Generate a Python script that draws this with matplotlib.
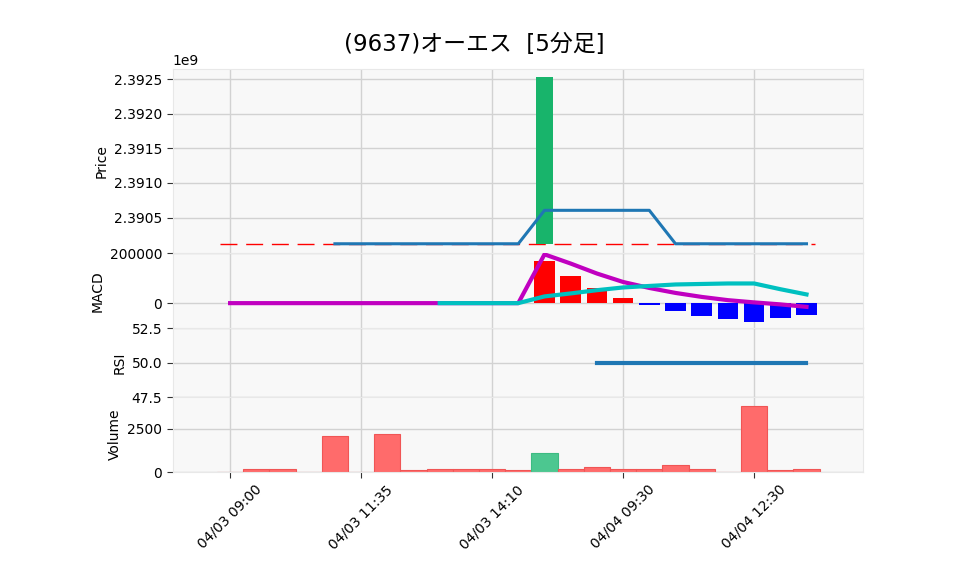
import numpy as np
import matplotlib
matplotlib.use("Agg")
import matplotlib.pyplot as plt

plt.rcParams['font.family'] = ['DejaVu Sans', 'Noto Sans CJK JP']

nan = np.nan

title = "(9637)オーエス  [5分足]"
tick_pos = [0, 5, 10, 15, 20]
tick_labels = ["04/03 09:00", "04/03 11:35", "04/03 14:10", "04/04 09:30", "04/04 12:30"]

# price data (values as shown on chart, scale 1e9)
opens = [2390120000, 2390120000, 2390120000, 2390120000, 2390120000, 2390120000,
         2390120000, 2390120000, 2390120000, 2390120000, 2390120000, 2390120000,
         2390120000, 2390120000, 2390120000, 2390120000, 2390120000, 2390120000,
         2390120000, 2390120000, 2390120000, 2390120000, 2390120000]
closes = [2390120000, 2390120000, 2390120000, 2390120000, 2390120000, 2390120000,
          2390120000, 2390120000, 2390120000, 2390120000, 2390120000, 2390120000,
          2392540000, 2390120000, 2390120000, 2390120000, 2390120000, 2390120000,
          2390120000, 2390120000, 2390120000, 2390120000, 2390120000]
ma5 = [nan, nan, nan, nan, 2390120000, 2390120000, 2390120000, 2390120000,
       2390120000, 2390120000, 2390120000, 2390120000, 2390604000, 2390604000,
       2390604000, 2390604000, 2390604000, 2390120000, 2390120000, 2390120000,
       2390120000, 2390120000, 2390120000]
ref_price = 2390120000

macd = [0, 0, 0, 0, 0, 0, 0, 0, 0, 0, 0, 0, 196000, 159000, 119000, 85000,
        61000, 41000, 25000, 12000, 3000, -5000, -15000]
signal = [nan, nan, nan, nan, nan, nan, nan, nan, 0, 0, 0, 0, 27000, 39000,
          52000, 63000, 69000, 75000, 77000, 79000, 79000, 56000, 35000]
hist = [nan, nan, nan, nan, nan, nan, nan, nan, 0, 0, 0, 0, 169000, 109000,
        60000, 21000, -7000, -31000, -51000, -63000, -75000, -59000, -47000]

rsi = [nan, nan, nan, nan, nan, nan, nan, nan, nan, nan, nan, nan, nan, nan,
       50, 50, 50, 50, 50, 50, 50, 50, 50]

volume = [0, 200, 200, 0, 2100, 0, 2200, 100, 200, 200, 200, 100, 1100, 200,
          300, 200, 200, 400, 200, 0, 3800, 100, 200]

x = np.arange(len(closes))

fig = plt.figure(figsize=(9.58, 5.75), dpi=100)
gs = fig.add_gridspec(4, 1, height_ratios=[183.7, 74.7, 69.3, 74.5],
                      left=0.1803, right=0.9012, top=0.8795, bottom=0.1791, hspace=0)
ax_p = fig.add_subplot(gs[0])
ax_m = fig.add_subplot(gs[1], sharex=ax_p)
ax_r = fig.add_subplot(gs[2], sharex=ax_p)
ax_v = fig.add_subplot(gs[3], sharex=ax_p)

for ax in (ax_p, ax_m, ax_r, ax_v):
    ax.set_facecolor('#f8f8f8')
    ax.grid(True, color='#d2d2d2', linewidth=1)
    ax.set_axisbelow(True)
    for sp in ax.spines.values():
        sp.set_color('#e8e8e8')
    ax.tick_params(labelsize=10, length=4, color='#333333')
    ax.tick_params(axis='x', labelbottom=False)

# price panel
o = np.array(opens, dtype=float)
c = np.array(closes, dtype=float)
up = c > o
candle_col = np.where(up, '#18b46b', '#ff4d4d')
ax_p.bar(x, c - o, bottom=o, width=0.68, color=candle_col, linewidth=0, zorder=3)
ax_p.hlines(ref_price, -0.38, 22.33, colors='red', linewidth=1,
            linestyles=(0, (12.2, 6.3)), zorder=2)
ax_p.plot(x, ma5, color='#1f77b4', linewidth=2.2, zorder=4)
ax_p.ticklabel_format(axis='y', useOffset=False)
ax_p.set_ylim(2389983000, 2392645000)
ax_p.set_yticks([2390500000, 2391000000, 2391500000, 2392000000, 2392500000])
ax_p.set_ylabel('Price', fontsize=10)

# MACD panel
h = np.array(hist, dtype=float)
hcol = np.where(h >= 0, '#ff0000', '#0000ff')
ax_m.bar(x, h, width=0.78, color=hcol, linewidth=0, zorder=2)
ax_m.plot(x, macd, color='#c000c0', linewidth=3, zorder=3)
ax_m.plot(x, signal, color='#00c0c0', linewidth=3, zorder=4)
ax_m.set_ylim(-100000, 200500)
ax_m.set_yticks([0, 200000])
ax_m.set_ylabel('MACD', fontsize=10)

# RSI panel
ax_r.plot(x, rsi, color='#1f77b4', linewidth=3)
ax_r.set_ylim(47.5, 52.5)
ax_r.set_yticks([47.5, 50.0, 52.5])
ax_r.set_ylabel('RSI', fontsize=10)

# volume panel
vcol = np.where(up, '#4cc790', '#ff6b6b')
vedge = np.where(up, '#3dbb82', '#f05555')
ax_v.bar(x, volume, width=1.0, color=vcol, edgecolor=vedge, linewidth=0.8, zorder=2)
ax_v.set_ylim(0, 4300)
ax_v.set_yticks([0, 2500])
ax_v.set_ylabel('Volume', fontsize=10)

ax_v.set_xlim(-2.19, 24.17)
ax_v.set_xticks(tick_pos)
ax_v.set_xticklabels(tick_labels, rotation=45)
ax_v.tick_params(axis='x', labelbottom=True)

fig.suptitle(title, x=0.495, y=0.923, va='center', fontsize=16.5)

fig.savefig('out.png', dpi=100)
